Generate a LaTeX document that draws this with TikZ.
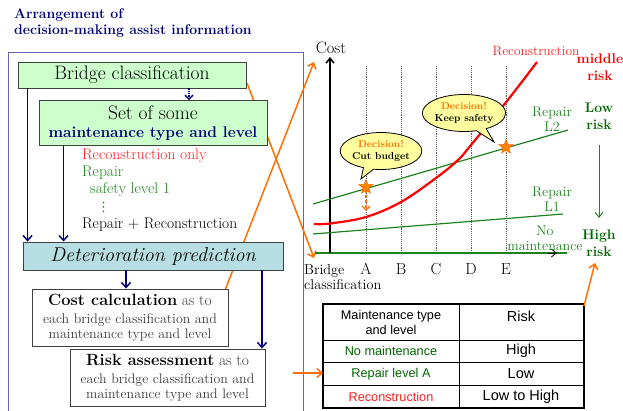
\documentclass[tikz,border=0pt]{standalone}
\usepackage{fontspec}
\newfontfamily\arialf{Liberation Sans}
\newfontfamily\djv{DejaVu Sans}
\usetikzlibrary{shapes.geometric,shapes.callouts,arrows.meta}
\definecolor{navy}{RGB}{0,0,120}
\definecolor{frameblue}{RGB}{100,100,175}
\definecolor{boxgreen}{RGB}{204,255,204}
\definecolor{boxteal}{RGB}{183,222,226}
\definecolor{dgreen}{RGB}{0,100,0}
\definecolor{lgreen}{RGB}{30,130,30}
\definecolor{tred}{RGB}{255,30,30}
\definecolor{orng}{RGB}{255,110,0}
\definecolor{cyell}{RGB}{255,255,160}
\definecolor{txtgray}{RGB}{60,60,60}
\newcommand\fsz[2]{\fontsize{#1}{#2}\selectfont}
\tikzset{
  box/.style={draw=black!75, line width=0.9pt, inner sep=0pt, align=center},
  greenbox/.style={box, fill=boxgreen},
  tealbox/.style={box, fill=boxteal},
  whitebox/.style={box, fill=white},
  navyarr/.style={navy, line width=1.5pt, -{Straight Barb[length=5pt,width=9pt]}},
  orarr/.style={orng, line width=1.5pt, -{Straight Barb[length=5pt,width=9pt]}},
  lbl/.style={inner sep=0pt, anchor=west},
  grlbl/.style={inner sep=0pt, text=lgreen, align=center, font=\fsz{14}{15}},
  risklbl/.style={inner sep=0pt, align=center, font=\bfseries\fsz{14}{16.5}},
  vgrid/.style={black!65, line width=0.9pt, densely dotted},
  decide/.style={ellipse callout, draw=black, line width=0.8pt, fill=cyell, minimum width=73pt, minimum height=37pt, inner sep=0pt, align=center, font=\bfseries\fsz{10}{12.5}},
  starmark/.style={star, star points=5, star point ratio=2.4, fill=orng!85!yellow, draw=orng!90!red, line width=0.5pt, minimum size=15pt, inner sep=0pt},
  tcell/.style={inner sep=0pt, align=center, font=\arialf\fsz{12.7}{14}},
  tval/.style={inner sep=0pt, align=center, font=\arialf\fsz{14.5}{16}},
  infobox/.style={whitebox, minimum height=57pt, text=txtgray, font=\fsz{13.9}{15}},
}
\begin{document}
\begin{tikzpicture}[x=1pt,y=-1pt]
\useasboundingbox (0,0) rectangle (623,410);
% outer frame
\draw[frameblue, line width=0.8pt] (8,52) rectangle (303,414);
% title
\node[anchor=north west, align=left, text=navy, font=\bfseries\fsz{14}{16}, inner sep=0pt] (title) at (14,8) {Arrangement of\\decision-making assist information};

% orange crossing lines (behind boxes)
\coordinate (oA) at (247,83);
\coordinate (oAend) at (314,258);
\coordinate (oB) at (222,298);
\coordinate (oBend) at (314,62);
\draw[orarr] (oA) -- (oAend);
\draw[orarr] (oB) -- (oBend);

% boxes
\node[greenbox, minimum width=228pt, minimum height=26pt, font=\fsz{19.5}{22}] (bc) at (132,75) {Bridge classification};
\node[greenbox, minimum width=228pt, minimum height=45pt, font=\fsz{19.5}{20.5}] (set) at (153,123) {\raisebox{-2pt}{Set of some}\\\textcolor{navy}{\bfseries\fsz{15.5}{20.5}maintenance type and level}};
\node[tealbox, minimum width=260pt, minimum height=28pt, font=\itshape\fsz{20}{22}] (dp) at (153,256) {Deterioration prediction};
\node[infobox, minimum width=196pt] (cost) at (130,317.5) {{\color{black}\bfseries\fsz{16.3}{19}Cost calculation} {\fsz{15.5}{19}as to}\\[3pt]each bridge classification and\\maintenance type and level};
\node[infobox, minimum width=195pt] (risk) at (167.5,377.5) {{\color{black}\bfseries\fsz{16.3}{19}Risk assessment} {\fsz{15.5}{19}as to}\\[3pt]each bridge classification and\\maintenance type and level};

% list
\node[lbl, text=tred, font=\fsz{15.5}{17}] (l1) at (82,156) {Reconstruction only};
\node[lbl, text=lgreen, font=\fsz{15.5}{17}] (l2) at (82,173) {Repair};
\node[lbl, text=lgreen, font=\fsz{15.5}{17}] (l3) at (90,190) {safety level 1};
\node[lbl, text=lgreen, font=\djv\fsz{13}{15}] (l4) at (97,207) {⋮};
\node[lbl, text=black, font=\fsz{15.5}{17}] (l5) at (82,225) {Repair + Reconstruction};

% navy arrows
\draw[navyarr] ([xshift=10pt]bc.south west) -- ([xshift=10pt]bc.south west |- dp.north);
\draw[navyarr] ([xshift=25pt]set.south west) -- ([xshift=25pt]set.south west |- dp.north);
\draw[navy, line width=1.3pt, densely dotted, -{Straight Barb[length=4pt,width=8pt]}] ([xshift=57pt]bc.south) -- ([xshift=57pt]bc.south |- set.north);
\draw[navyarr] ([xshift=-27pt]dp.south) -- ([xshift=-27pt]dp.south |- cost.north);
\draw[navyarr] ([xshift=109pt]dp.south) -- ([xshift=109pt]dp.south |- risk.north);

% ---------- graph ----------
\coordinate (O) at (330,253);
\foreach \x/\n in {366/A,401/B,436/C,471/D,506/E}{
  \draw[vgrid] (\x,66) -- (\x,253);
  \node[inner sep=0pt, font=\fsz{16}{18}] (lab\n) at (\x,269) {\n};
}
\draw[lgreen, line width=1.3pt] (315,253) -- (567,253);
\draw[black, line width=0.8pt, -{Straight Barb[length=5pt,width=8pt]}] (548,253) -- (557,253);
\draw[black, line width=1.5pt, -{Straight Barb[length=5pt,width=8pt]}] (O) -- (330,57);
\node[inner sep=0pt, font=\fsz{16.5}{18}] (costlab) at (331,48) {Cost};
\node[anchor=north west, align=left, inner sep=0pt, font=\fsz{14.3}{15}] (bclab) at (304,264) {Bridge\\classification};

% lines
\coordinate (L2a) at (313,204); \coordinate (L2b) at (568,130);
\coordinate (L1a) at (313,234); \coordinate (L1b) at (563,214);
\draw[lgreen, line width=1.2pt] (L2a) -- (L2b);
\draw[lgreen, line width=1.2pt] (L1a) -- (L1b);
\draw[red, line width=2.2pt] plot[smooth, tension=0.6] coordinates {(314,224) (330,223.5) (366,217) (401,202) (436,178) (458,160) (471,145) (507,101) (537,62)};

\node[grlbl] (rl2) at (552,119) {Repair\\L2};
\node[grlbl] (rl1) at (552,199) {Repair\\L1};
\node[grlbl] (nm) at (545,238) {No\\maintenance};
\node[inner sep=0pt, text=tred, font=\fsz{13.5}{15}] (reclab) at (536,51) {Reconstruction};

\node[risklbl, text=red] (mr) at (600,67) {middle\\risk};
\node[risklbl, text=dgreen] (lr) at (599,116) {Low\\risk};
\node[risklbl, text=dgreen] (hr) at (599,243) {High\\risk};
\coordinate (lrarr) at (599,145);
\coordinate (hrarr) at (599,218);
\draw[lgreen, line width=1pt, -{Straight Barb[length=5pt,width=8pt]}] (lrarr) -- (hrarr);

% stars and callouts
\node[starmark] (sA) at (366,187) {};
\node[starmark] (sE) at (506,147) {};
\coordinate (dA) at (366,211);
\draw[orng, line width=1.3pt, densely dashed, -{Straight Barb[length=4pt,width=8pt]}] (sA) -- (dA);
\coordinate (tipA) at (361,179);
\coordinate (tipE) at (494,142);
\node[decide, callout absolute pointer={(tipA)}] (cA) at (381,151) {\textcolor{orng}{Decision!}\\Cut budget};
\node[decide, callout absolute pointer={(tipE)}] (cE) at (464,113) {\textcolor{orng}{Decision!}\\Keep safety};

% ---------- table ----------
\coordinate (T1) at (323,304);
\coordinate (T2) at (584,408);
\draw[black, line width=0.9pt] (459,304) -- (459,408);
\draw[black, line width=0.9pt] (323,340) -- (584,340);
\draw[black, line width=0.9pt] (323,362) -- (584,362);
\draw[black, line width=0.9pt] (323,385) -- (584,385);
\draw[black, line width=1.8pt] (T1) rectangle (T2);
\node[tcell, font=\arialf\fsz{12.7}{15}] (h1) at (391,322) {Maintenance type\\and level};
\node[tval] (h2) at (521,316) {Risk};
\node[tcell, text=dgreen] (r1a) at (391,351) {No maintenance};
\node[tcell, text=dgreen] (r2a) at (391,374) {Repair level A};
\node[tcell, text=tred] (r3a) at (391,397) {Reconstruction};
\node[tval] (r1b) at (521,351) {High};
\node[tval] (r2b) at (521,374) {Low};
\node[tval] (r3b) at (521,397) {Low to High};

% orange arrows to table / high risk
\coordinate (oC) at (293,373);
\draw[orarr] (oC) -- (T1 |- oC);
\coordinate (oDend) at (595,263);
\draw[orarr] (584,306) -- (oDend);
\end{tikzpicture}
\end{document}
